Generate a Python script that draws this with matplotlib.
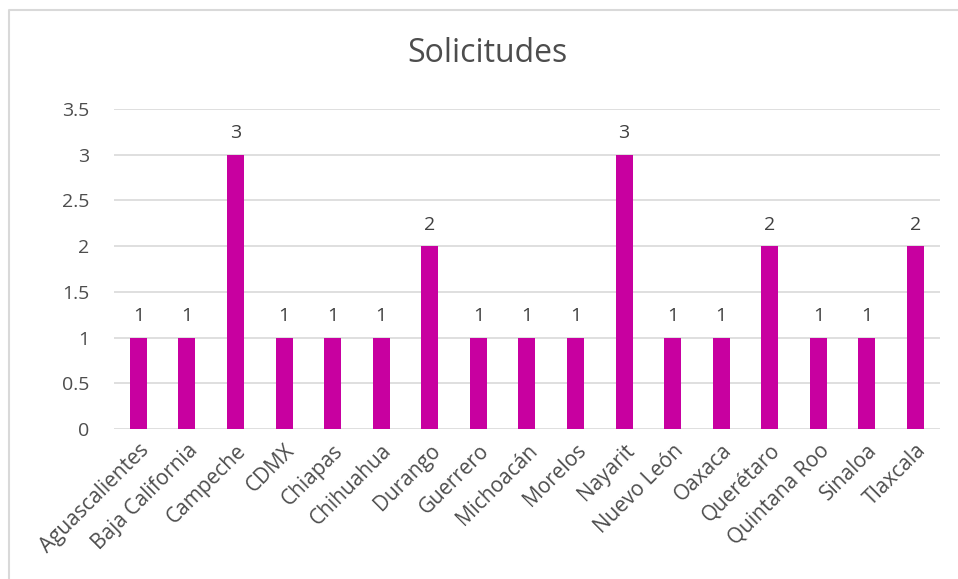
import matplotlib.pyplot as plt
from matplotlib.lines import Line2D

# === Datos ===
estados = ["Aguascalientes", "Baja California", "Campeche", "CDMX", "Chiapas",
           "Chihuahua", "Durango", "Guerrero", "Michoacán", "Morelos", "Nayarit",
           "Nuevo León", "Oaxaca", "Querétaro", "Quintana Roo", "Sinaloa", "Tlaxcala"]
solicitudes = [1, 1, 3, 1, 1, 1, 2, 1, 1, 1, 3, 1, 1, 2, 1, 1, 2]
y_ticks = [0, 0.5, 1, 1.5, 2, 2.5, 3, 3.5]
y_tick_labels = ["0", "0.5", "1", "1.5", "2", "2.5", "3", "3.5"]

plt.rcParams['font.family'] = ['Open Sans', 'DejaVu Sans']
TEXT = "#4D4D4D"

fig = plt.figure(figsize=(9.58, 5.79), dpi=100)
ax = fig.add_axes([0.119, 0.259, 0.862, 0.553])

x = range(len(estados))
ax.bar(x, solicitudes, width=0.35, color="#C800A0", zorder=3)
for i, v in zip(x, solicitudes):
    ax.annotate(str(v), (i, v), xytext=(0, 9), textcoords="offset points",
                ha="center", va="bottom", fontsize=14, color="#404040")

ax.set_xlim(-0.5, len(estados) - 0.5)
ax.set_ylim(0, 3.5)
ax.set_yticks(y_ticks)
ax.set_yticklabels(y_tick_labels, fontsize=14, color=TEXT)
ax.set_xticks(list(x))
ax.set_xticklabels(estados, rotation=45, ha="right", rotation_mode="anchor",
                   fontsize=15, color=TEXT)
ax.tick_params(length=0, pad=8)
ax.tick_params(axis="y", pad=18)
ax.grid(axis="y", color="#D9D9D9", linewidth=1.2, zorder=0)
for s in ax.spines.values():
    s.set_visible(False)
ax.set_axisbelow(True)

fig.text(0.509, 0.908, "Solicitudes", ha="center", va="center", fontsize=23, color=TEXT)

# borde del gráfico (solo arriba e izquierda visibles, imagen recortada)
fig.add_artist(Line2D([0.0095, 0.0095, 1.0], [0.0, 0.983, 0.983], transform=fig.transFigure,
                      color="#D9D9D9", linewidth=1.5))

fig.savefig("out.png", dpi=100)
